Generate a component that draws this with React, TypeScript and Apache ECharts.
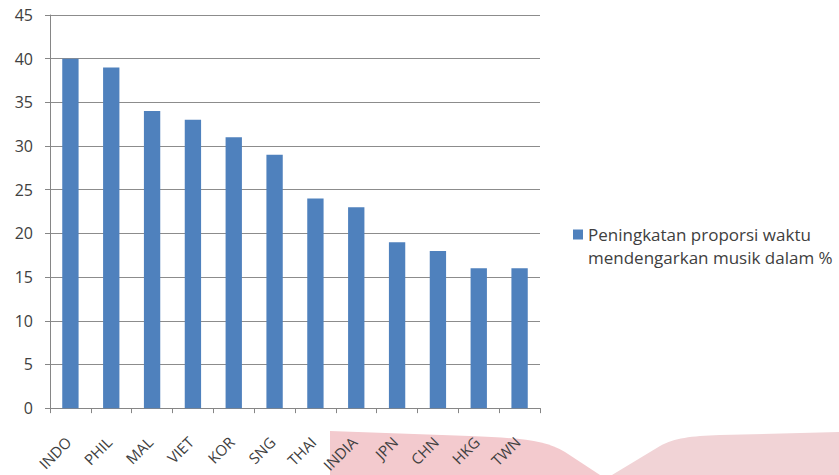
import React, { useEffect, useRef } from "react";
import * as echarts from "echarts";

const categories = ["INDO", "PHIL", "MAL", "VIET", "KOR", "SNG", "THAI", "INDIA", "JPN", "CHN", "HKG", "TWN"];
const values = [40, 39, 34, 33, 31, 29, 24, 23, 19, 18, 16, 16];
const seriesName = "Peningkatan proporsi waktu\nmendengarkan musik dalam %";

echarts.graphic.registerShape(
  "pinkA",
  echarts.graphic.extendPath(
    "M330,431 L470,436 C520,438 545,440 565,452 L600,475 L330,475 Z",
    {}
  )
);
echarts.graphic.registerShape(
  "pinkB",
  echarts.graphic.extendPath(
    "M612,475 L660,446 C675,438 690,436 720,435 L839,432 L839,475 Z",
    {}
  )
);

export default function App() {
  const ref = useRef<HTMLDivElement>(null);
  useEffect(() => {
    if (!ref.current) return;
    const chart = echarts.init(ref.current, null, { renderer: "svg" });
    chart.setOption({
      animation: false,
      backgroundColor: "#ffffff",
      textStyle: { fontFamily: "Open Sans" },
      graphic: [
        { type: "pinkA", x: 0, y: 0, z: -10, silent: true, style: { fill: "#F3CACE" } },
        { type: "pinkB", x: 0, y: 0, z: -10, silent: true, style: { fill: "#F1D3D6" } },
      ],
      grid: { left: 50, right: 299, top: 15, bottom: 65, containLabel: false },
      legend: {
        left: 568,
        top: 195,
        orient: "vertical",
        icon: "rect",
        itemWidth: 10,
        itemHeight: 10,
        itemGap: 4,
        formatter: (n: string) => " \n" + n,
        textStyle: { fontSize: 17, color: "#404040", lineHeight: 23, fontFamily: "Open Sans" },
        data: [seriesName],
      },
      xAxis: {
        type: "category",
        data: categories,
        axisLine: { lineStyle: { color: "#868686" } },
        axisTick: { show: true, length: 5, lineStyle: { color: "#868686" } },
        axisLabel: {
          rotate: 45,
          fontSize: 15,
          color: "#404040",
          margin: 29,
          padding: [0, 3, 0, 0],
          interval: 0,
        },
      },
      yAxis: {
        type: "value",
        min: 0,
        max: 45,
        interval: 5,
        axisLine: { show: true, lineStyle: { color: "#868686" } },
        axisTick: { show: true, length: 5, lineStyle: { color: "#868686" } },
        axisLabel: { fontSize: 16, color: "#404040", margin: 17 },
        splitLine: { lineStyle: { color: "#8c8c8c" } },
      },
      series: [
        {
          name: seriesName,
          type: "bar",
          data: values,
          barWidth: "40%",
          itemStyle: { color: "#4F81BD" },
        },
      ],
    });
    return () => chart.dispose();
  }, []);
  return <div ref={ref} style={{ position: "fixed", left: 0, top: 0, width: 839, height: 475 }} />;
}
